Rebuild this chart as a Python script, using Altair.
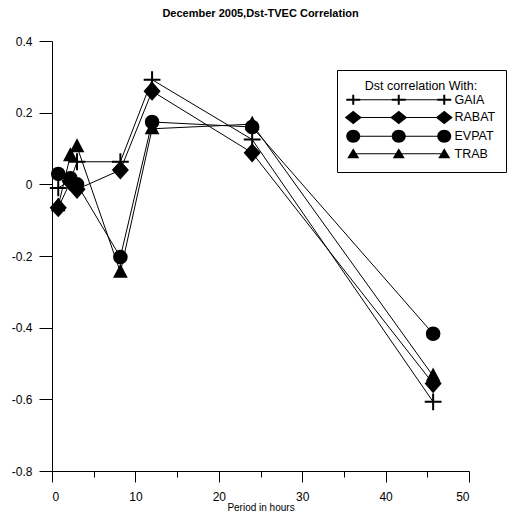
import altair as alt
import pandas as pd

# ---- data ----
periods = [0.75, 2.2, 3.0, 8.2, 12.0, 24.0, 45.7]
series_names = ["GAIA", "RABAT", "EVPAT", "TRAB"]
gaia = [-0.01, 0.01, 0.063, 0.063, 0.292, 0.125, -0.607]
rabat = [-0.065, 0.007, -0.014, 0.04, 0.26, 0.088, -0.556]
evpat = [0.029, 0.017, 0.0, -0.203, 0.174, 0.16, -0.417]
trab = [-0.06, 0.08, 0.105, -0.245, 0.155, 0.168, -0.535]
x_ticks = [0, 5, 10, 15, 20, 25, 30, 35, 40, 45, 50]
y_ticks = [-0.8, -0.7, -0.6, -0.5, -0.4, -0.3, -0.2, -0.1, 0.0, 0.1, 0.2, 0.3, 0.4]

rows = []
for name, vals in zip(series_names, [gaia, rabat, evpat, trab]):
    for p, v in zip(periods, vals):
        rows.append({"period": p, "corr": v, "series": name})
df = pd.DataFrame(rows)

# marker paths (normalized units)
plus_p = "M-1.4,0H1.4M0,-1.4V1.4"
diam_p = "M-1.2,0L0,-1.35L1.2,0L0,1.35Z"
circ_p = "M1.05,0A1.05,1.05,0,1,1,-1.05,0A1.05,1.05,0,1,1,1.05,0Z"
tri_p = "M0,-1.05L0.95,0.75L-0.95,0.75Z"
marker_paths = [plus_p, diam_p, circ_p, tri_p]

# legend glyphs: a thin bar with three markers, all as filled (clockwise) shapes
gap = 9.1
def f(v):
    return f"{v:.3f}"

def glyph(kind):
    parts = [f"M0,-0.1H{f(2*gap)}V0.1H0Z"]
    for cx in (0, gap, 2 * gap):
        if kind == "plus":
            parts.append(f"M{f(cx-1.4)},-0.2H{f(cx+1.4)}V0.2H{f(cx-1.4)}Z")
            parts.append(f"M{f(cx-0.2)},-1.0H{f(cx+0.2)}V1.0H{f(cx-0.2)}Z")
        elif kind == "diamond":
            parts.append(f"M{f(cx-1.7)},0L{f(cx)},-1.35L{f(cx+1.7)},0L{f(cx)},1.35Z")
        elif kind == "circle":
            parts.append(f"M{f(cx+1.4)},0A1.4,1.3,0,1,1,{f(cx-1.4)},0A1.4,1.3,0,1,1,{f(cx+1.4)},0Z")
        else:
            parts.append(f"M{f(cx)},-1.1L{f(cx+1.2)},0.9L{f(cx-1.2)},0.9Z")
    return "".join(parts)

legend_paths = [glyph("plus"), glyph("diamond"), glyph("circle"), glyph("tri")]

FONT = "Liberation Sans"

xscale = alt.Scale(domain=[0, 50], nice=False, zero=False)
yscale = alt.Scale(domain=[-0.8, 0.4], nice=False, zero=False)

xaxis = alt.Axis(
    values=x_ticks,
    labelExpr="datum.value % 10 == 0 ? toString(datum.value) : ''",
    tickSize={"condition": {"test": "datum.value % 10 == 0", "value": 11}, "value": 6},
    labelPadding=9,
    title="Period in hours",
    titleFontSize=10,
    titleFontWeight="normal",
    titlePadding=0,
    grid=False,
)
yaxis = alt.Axis(
    values=y_ticks,
    labelExpr="round(datum.value*10) % 2 == 0 ? (round(datum.value*10) == 0 ? '0' : toString(round(datum.value*10)/10)) : ''",
    tickSize={"condition": {"test": "round(datum.value*10) % 2 == 0", "value": 13}, "value": 8},
    labelPadding=7,
    title=None,
    grid=False,
)

base = alt.Chart(df)

lines = base.mark_line(color="black", strokeWidth=1).encode(
    x=alt.X("period:Q", scale=xscale, axis=xaxis),
    y=alt.Y("corr:Q", scale=yscale, axis=yaxis),
    detail="series:N",
)

points = base.mark_point(filled=True, fill="black", stroke="black", strokeWidth=2, opacity=1, size=144).encode(
    x=alt.X("period:Q", scale=xscale),
    y=alt.Y("corr:Q", scale=yscale),
    shape=alt.Shape("series:N", scale=alt.Scale(domain=series_names, range=marker_paths), legend=None),
)

# legend-only layer (no rows drawn), its shape scale supplies the legend glyphs
legend_layer = base.transform_filter("datum.corr > 100").mark_point(
    filled=True, fill="black", opacity=1, size=100
).encode(
    x=alt.X("period:Q", scale=xscale),
    y=alt.Y("corr:Q", scale=yscale),
    shape=alt.Shape(
        "series:N",
        scale=alt.Scale(domain=series_names, range=legend_paths),
        legend=alt.Legend(
            title="Dst correlation With:",
            orient="none",
            legendX=285,
            legendY=29,
            padding=10,
            strokeColor="black",
            fillColor="white",
            symbolSize=100,
            symbolOpacity=1,
            symbolFillColor="black",
            labelOffset=95,
            rowPadding=-1.3,
            labelFontSize=12.5,
            labelFont=FONT,
            labelColor="black",
            titleFontSize=12.5,
            titleFontWeight="normal",
            titleFont=FONT,
            titleColor="black",
            titleAnchor="middle",
            titleAlign="center",
            titlePadding=1,
        ),
    ),
)

chart = (
    alt.layer(lines, points, legend_layer)
    .resolve_scale(shape="independent")
    .properties(
        width=417,
        height=430,
        autosize="none",
        padding={"left": 44, "top": 33, "right": 40, "bottom": 42},
        title=alt.TitleParams(
            "December 2005,Dst-TVEC Correlation",
            fontSize=11,
            fontWeight="bold",
            font=FONT,
            color="black",
            anchor="middle",
            offset=16,
        ),
    )
    .configure_view(stroke=None)
    .configure_axis(
        domainColor="black",
        tickColor="black",
        labelColor="black",
        titleColor="black",
        labelFont=FONT,
        titleFont=FONT,
        labelFontSize=12,
        domainWidth=1,
        tickWidth=1,
    )
)

chart.save("out.html", embed_options={"renderer": "svg", "actions": False})
